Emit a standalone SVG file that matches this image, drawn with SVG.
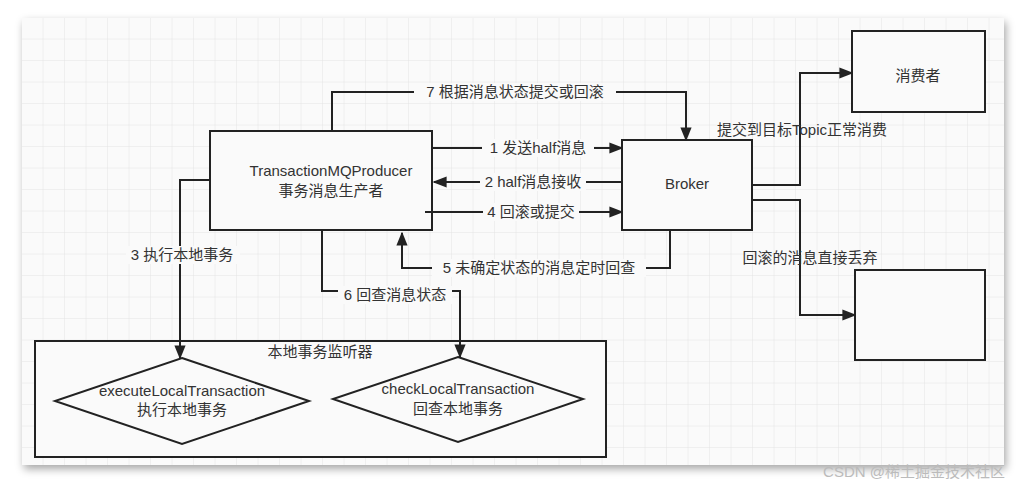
<svg xmlns="http://www.w3.org/2000/svg" width="1028" height="492" viewBox="0 0 1028 492">
<defs>
<pattern id="grid" x="22" y="18" width="21.5" height="21.5" patternUnits="userSpaceOnUse"><path d="M21.5 0V21.5H0" fill="none" stroke="#e3e3e3" stroke-width="1"/></pattern>
<marker id="ar" viewBox="0 0 10 10" refX="9" refY="5" markerWidth="7" markerHeight="7" orient="auto"><path d="M0 1L10 5L0 9z" fill="#222"/></marker>
<filter id="sh" x="-5%" y="-5%" width="110%" height="115%"><feDropShadow dx="2" dy="4" stdDeviation="4" flood-color="#000" flood-opacity="0.35"/></filter>
</defs>
<style>
.n{fill:#fafafa;stroke:#222;stroke-width:2}
.t{font-family:"Liberation Sans","Noto Sans CJK SC",sans-serif;font-size:15px;fill:#333;text-anchor:middle;dominant-baseline:middle}
.c{fill:none;stroke:#222;stroke-width:2;marker-end:url(#ar)}
.l{fill:#fafafa}
</style>
<rect width="1028" height="492" fill="#fff"/>
<rect x="22" y="18" width="982" height="447" fill="#fafafa" filter="url(#sh)"/>
<rect x="22" y="18" width="982" height="447" fill="url(#grid)"/>
<g id="producer"><rect class="n" x="210" y="131" width="222" height="99"/><text class="t" x="331" y="172">TransactionMQProducer</text><text class="t" x="331" y="192">事务消息生产者</text></g>
<g id="broker"><rect class="n" x="622" y="140" width="130" height="90"/><text class="t" x="687" y="185">Broker</text></g>
<g id="consumer"><rect class="n" x="852" y="31" width="133" height="81"/><text class="t" x="918" y="77">消费者</text></g>
<g id="discard"><rect class="n" x="855" y="270" width="130" height="90"/></g>
<g id="listener"><rect class="n" x="35" y="341" width="571" height="116"/><text class="t" x="320" y="353">本地事务监听器</text></g>
<g id="execute"><path class="n" d="M182 358L309 401L182 444L55 401Z"/><text class="t" x="182" y="392">executeLocalTransaction</text><text class="t" x="182" y="411">执行本地事务</text></g>
<g id="check"><path class="n" d="M458 357L583 399L458 442L333 399Z"/><text class="t" x="458" y="390">checkLocalTransaction</text><text class="t" x="458" y="410">回查本地事务</text></g>
<g id="connectors">
<path class="c" d="M332 131V92H686V140"/>
<path class="c" d="M432 148H622"/>
<path class="c" d="M622 182H434"/>
<path class="c" d="M425 212H622"/>
<path class="c" d="M670 230V268H402V233"/>
<path class="c" d="M322 230V291H460V357"/>
<path class="c" d="M210 180H180V358"/>
<path class="c" d="M752 185H800V73H852"/>
<path class="c" d="M752 200H800V315H855"/>
<rect class="l" x="414" y="83" width="202" height="18"/><text class="t" x="515" y="93">7 根据消息状态提交或回滚</text>
<rect class="l" x="482" y="139" width="112" height="18"/><text class="t" x="538" y="149">1 发送half消息</text>
<rect class="l" x="480" y="173" width="106" height="18"/><text class="t" x="533" y="183">2 half消息接收</text>
<rect class="l" x="483" y="203" width="96" height="18"/><text class="t" x="531" y="213">4 回滚或提交</text>
<rect class="l" x="432" y="259" width="214" height="18"/><text class="t" x="539" y="269">5 未确定状态的消息定时回查</text>
<rect class="l" x="338" y="286" width="114" height="18"/><text class="t" x="395" y="296">6 回查消息状态</text>
<rect class="l" x="126" y="246" width="114" height="18"/><text class="t" x="182" y="256">3 执行本地事务</text>
<text class="t" x="802" y="131">提交到目标Topic正常消费</text>
<text class="t" x="810" y="259">回滚的消息直接丢弃</text>
</g>
<text class="t" x="914" y="473" style="fill:#bbb;font-size:15px">CSDN @稀土掘金技术社区</text>
</svg>
